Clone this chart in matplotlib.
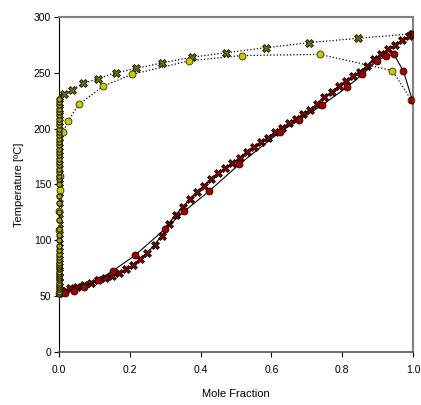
import matplotlib.pyplot as plt

plt.rcParams['font.family'] = ['Liberation Sans', 'DejaVu Sans']

# liquid phase, experiment (red circles)
liq_exp_x = [0.0, 0.017, 0.043, 0.071, 0.111, 0.153, 0.215, 0.299, 0.354, 0.424, 0.509,
             0.624, 0.677, 0.742, 0.815, 0.857, 0.899, 0.924, 0.946, 0.973, 0.998]
liq_exp_y = [53, 53, 54.6, 58.5, 64.5, 72.8, 86.6, 110, 126, 144, 168,
             197, 207.7, 220.8, 237.5, 248.6, 261, 265, 266.5, 251.6, 225.6]

# liquid phase, model (crosses)
liq_mod_x = [0.0, 0.01, 0.03, 0.05, 0.07, 0.09, 0.11, 0.13, 0.15, 0.17, 0.19, 0.21, 0.23,
             0.25, 0.27, 0.29, 0.31, 0.33, 0.35, 0.37, 0.39, 0.41, 0.43, 0.45, 0.47, 0.49,
             0.51, 0.53, 0.55, 0.57, 0.59, 0.61, 0.63, 0.65, 0.67, 0.69, 0.71, 0.73, 0.75,
             0.77, 0.79, 0.81, 0.83, 0.85, 0.87, 0.89, 0.91, 0.93, 0.95, 0.97, 0.99, 1.0]
liq_mod_y = [53, 55, 57, 58.5, 60, 62, 64, 66, 68, 71, 74, 78, 83,
             89, 96, 104, 115, 123, 130, 137, 143, 149, 155, 160, 165, 169,
             174, 179, 184, 188, 192, 197, 201, 205, 209, 213, 217, 222, 228,
             233, 238, 243, 247, 251, 256, 262, 267, 271, 275, 279, 283, 285]

# vapour phase, experiment (yellow circles)
vap_exp_x = [0.0, 0.0, 0.0, 0.002, 0.004, 0.012, 0.026, 0.056, 0.125,
             0.206, 0.368, 0.517, 0.737, 0.942, 0.995]
vap_exp_y = [53, 109, 126, 145, 158, 196.7, 207, 221.7, 238,
             248.6, 260.8, 265.5, 266.5, 252, 225.6]

# vapour phase, model (crosses)
vap_mod_x = [0.0, 0.0, 0.0, 0.0, 0.0, 0.0, 0.0, 0.0, 0.0, 0.0, 0.0, 0.0, 0.0, 0.0, 0.0,
             0.0, 0.0, 0.0, 0.0, 0.0, 0.0, 0.0, 0.0, 0.0, 0.0, 0.0, 0.0,
             0.014, 0.038, 0.069, 0.109, 0.16, 0.219, 0.292, 0.375, 0.472, 0.584,
             0.707, 0.846, 0.998]
vap_mod_y = [53, 56, 59, 63, 67, 72, 77, 83, 90, 98, 106, 115, 124, 133, 142,
             151, 160, 168, 176, 184, 192, 199, 206, 212, 218, 223, 228,
             230.7, 235, 240.5, 244.7, 250, 254, 259, 264, 268, 272.5,
             277, 281, 285]

# small markers stacked on the x = 0 axis
col_y = [52, 54, 56, 58, 60, 62, 64, 66, 68, 70, 72, 74, 76, 78, 80, 82, 85, 88, 91,
         95, 100, 105, 110, 118, 125, 133, 140, 150, 155, 158, 161, 164, 167, 170,
         173, 176, 179, 182, 185, 188, 191, 194, 197, 200, 203, 206, 209, 212, 215,
         218, 221, 224, 227]
col_x = [0.0] * len(col_y)

fig = plt.figure(figsize=(4.21, 4.05), dpi=100)
ax = fig.add_axes([0.140, 0.131, 0.841, 0.827])

yellow = '#C8C800'
red = '#9A0000'

ax.plot(vap_mod_x, vap_mod_y, ls=':', color='black', lw=0.9, marker='X', ms=5.2,
        mfc='#6B6B00', mec='black', mew=0.5, zorder=4)
ax.plot(col_x, col_y, 'o', ms=3.8, mfc='#A5A500', mec='#1A1A00', mew=0.8, zorder=6,
        clip_on=False)
ax.plot(vap_exp_x, vap_exp_y, ls=':', color='black', lw=0.9, marker='o', ms=5,
        mfc=yellow, mec='#333300', mew=0.6, zorder=5, clip_on=False)
ax.plot(liq_mod_x, liq_mod_y, ls='-', color='black', lw=0.8, marker='X', ms=5.2,
        mfc='#7A0000', mec='black', mew=0.5, zorder=4)
ax.plot(liq_exp_x, liq_exp_y, ls='-', color='black', lw=0.8, marker='o', ms=5,
        mfc=red, mec='#330000', mew=0.6, zorder=5)

ax.set_xlim(0, 1.0)
ax.set_ylim(0, 300)
ax.set_xticks([0.0, 0.2, 0.4, 0.6, 0.8, 1.0])
ax.set_xticklabels(['0.0', '0.2', '0.4', '0.6', '0.8', '1.0'])
ax.set_yticks([0, 50, 100, 150, 200, 250, 300])
ax.tick_params(labelsize=7.5, length=3.5, width=0.8, direction='out', pad=6)
ax.tick_params(axis='y', pad=2)

for side in ['top', 'right']:
    ax.spines[side].set_color('#808080')
    ax.spines[side].set_linewidth(1.5)
ax.spines['left'].set_color('black')
ax.spines['bottom'].set_color('#555555')
ax.spines['bottom'].set_linewidth(1.2)

ax.set_xlabel('Mole Fraction', fontsize=8, labelpad=10)
ax.set_ylabel('Temperature [ºC]', fontsize=8, labelpad=7)

fig.savefig('out.png', dpi=100)
